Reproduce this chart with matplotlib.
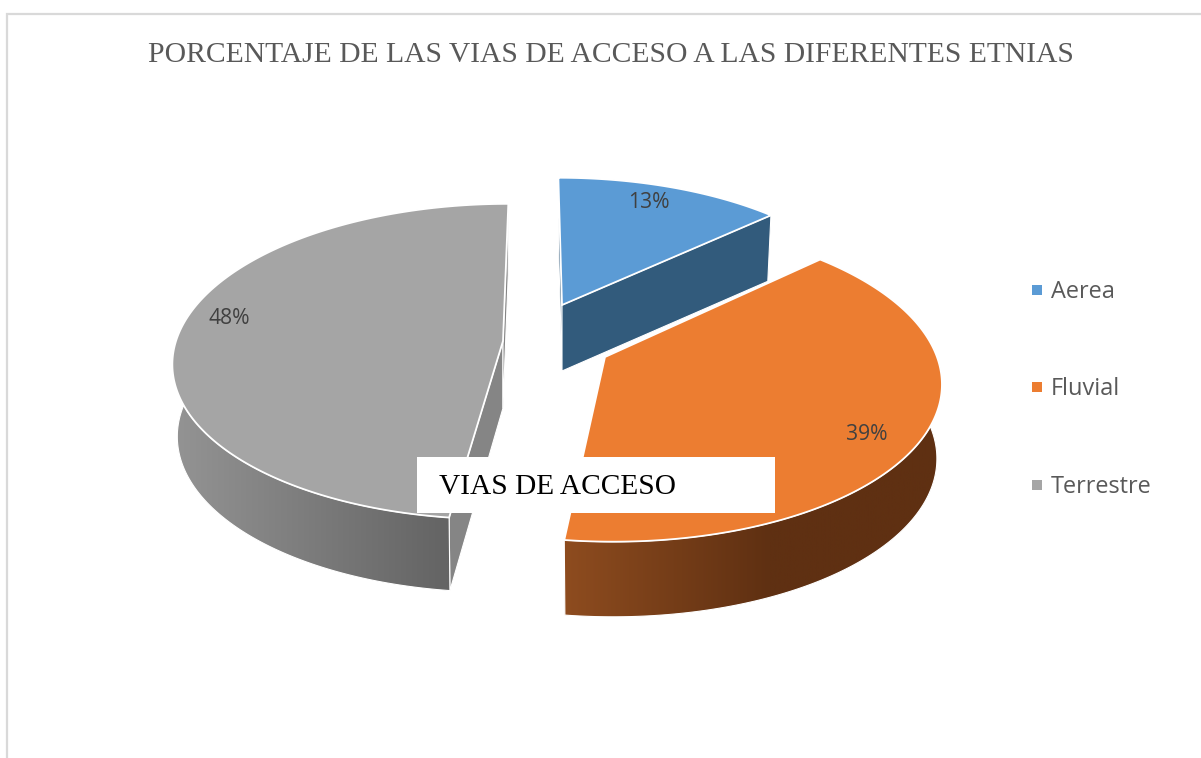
import numpy as np
import matplotlib
matplotlib.use("Agg")
import matplotlib.pyplot as plt
from matplotlib.patches import Polygon, Rectangle
from matplotlib.colors import LinearSegmentedColormap

TITLE = "PORCENTAJE DE LAS VIAS DE ACCESO A LAS DIFERENTES ETNIAS"
BOX_TEXT = "VIAS DE ACCESO"
categories = ["Aerea", "Fluvial", "Terrestre"]
values = [13, 39, 48]
colors = ["#5B9BD5", "#EC7D31", "#A5A5A5"]

# Projection / styling of each slice (pixels)
geom = {
    "Aerea":     dict(c=(562, 305), rx=310, ry=140, p=0.10, sx=4,    a=66, d=66, kx=0.985, ky=1.0,   cut="#325B7C"),
    "Fluvial":   dict(c=(605, 357), rx=332, ry=157, p=0.15, sx=7,    a=67, d=74, kx=0.985, ky=1.006, cut="#5F3012"),
    "Terrestre": dict(c=(503, 341), rx=327, ry=155, p=0.13, sx=-6,   a=67, d=72, kx=0.985, ky=1.006, cut="#858585"),
}
label_pos = {"Aerea": (649, 202), "Fluvial": (867, 434), "Terrestre": (229, 318)}
side_grad = {
    "Aerea": None,
    "Fluvial": ("#8E4C1F", "#5F3012", 563, 770),
    "Terrestre": ("#949494", "#646464", 172, 447),
}
legend_y = [290, 387, 485]

fig = plt.figure(figsize=(12.01, 7.58), dpi=100)
ax = fig.add_axes([0, 0, 1, 1])
ax.set_xlim(0, 1201)
ax.set_ylim(758, 0)
ax.axis("off")

# chart frame
ax.plot([7, 7, 1201], [758, 14, 14], color="#D9D9D9", lw=1.6, zorder=1, solid_joinstyle="miter")


def project(g, theta):
    u, v = np.sin(theta), -np.cos(theta)
    w = 1 / (1 - g["p"] * v)
    return g["c"][0] + (g["rx"] * u + g["sx"] * v) * w, g["c"][1] + g["ry"] * v * w


def lower(g, x, y):
    cx, cy = g["c"]
    return cx + g["kx"] * (x - cx), cy + g["d"] + g["ky"] * (y - cy)


EDGE = "#FFFFFF"
fracs = np.cumsum([0] + values) / np.sum(values) * 2 * np.pi
for i, name in enumerate(categories):
    g = geom[name]
    a0, a1 = fracs[i], fracs[i + 1]
    th = np.linspace(a0, a1, 240)
    x, y = project(g, th)
    cx, cy = g["c"]
    z = 2 + i
    # cut faces
    for ex, ey in [(x[0], y[0]), (x[-1], y[-1])]:
        bx, by = lower(g, ex, ey)
        ax.add_patch(Polygon([(cx, cy), (ex, ey), (bx, by), (cx, cy + g["a"])], closed=True,
                             fc=g["cut"], ec=EDGE, lw=0.8, zorder=z))
    # outer wall
    grad = side_grad[name]
    if grad is not None:
        keep = -np.cos(th) > -0.2
        wx, wy = x[keep], y[keep]
        bx, by = lower(g, wx, wy)
        poly = np.r_[np.c_[wx, wy], np.c_[bx[::-1], by[::-1]]]
        patch = Polygon(poly, closed=True, fc="none", ec=EDGE, lw=0.8, zorder=z + 0.2)
        ax.add_patch(patch)
        cmap = LinearSegmentedColormap.from_list(name, [grad[0], grad[1]])
        xmin, xmax = wx.min() - 2, wx.max() + 2
        ramp = np.clip((np.linspace(xmin, xmax, 512) - grad[2]) / (grad[3] - grad[2]), 0, 1)
        im = ax.imshow(ramp[None, :], extent=[xmin, xmax, by.max() + 2, wy.min() - 2],
                       cmap=cmap, vmin=0, vmax=1, aspect="auto", zorder=z + 0.1)
        clip = Polygon(poly, closed=True, transform=ax.transData)
        im.set_clip_path(clip)
    # top face
    ax.add_patch(Polygon(np.r_[[(cx, cy)], np.c_[x, y]], closed=True, fc=colors[i],
                         ec=EDGE, lw=1.3, zorder=z + 0.3, joinstyle="miter"))
    lx, ly = label_pos[name]
    ax.text(lx, ly, f"{values[i]}%", ha="center", va="center", fontsize=15.2,
            family="Open Sans", color="#404040", zorder=8)
    # legend
    ax.add_patch(Rectangle((1032, legend_y[i] - 5), 10, 10, fc=colors[i], ec="none", zorder=8))
    ax.text(1051, legend_y[i] + 2, name, ha="left", va="center", fontsize=16.9,
            family="Open Sans", color="#595959", zorder=8)

ax.set_xlim(0, 1201)
ax.set_ylim(758, 0)

# white annotation box
ax.add_patch(Rectangle((417, 457), 358, 56, fc="white", ec="none", zorder=9))
ax.text(439, 487, BOX_TEXT, ha="left", va="center", fontsize=21.2,
        family="Liberation Serif", color="#000000", zorder=10)

ax.text(610.5, 55, TITLE, ha="center", va="center", fontsize=21.35,
        family="Liberation Serif", color="#595959", zorder=10)

fig.savefig("out.png", dpi=100, facecolor="white")
